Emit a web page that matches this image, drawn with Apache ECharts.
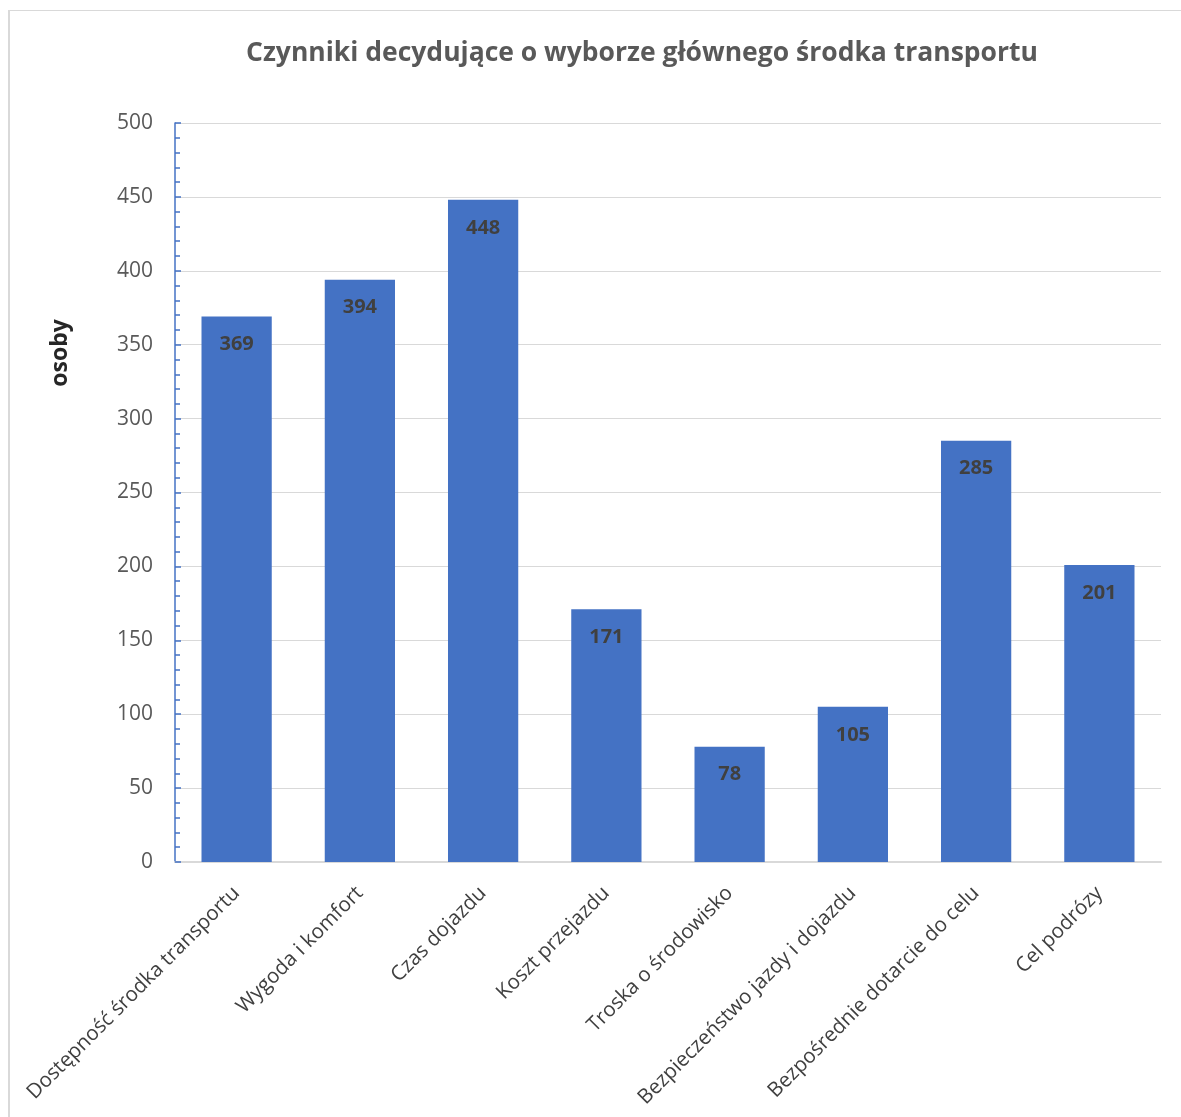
<!DOCTYPE html>
<html>
<head>
<meta charset="utf-8">
<script src="https://cdn.jsdelivr.net/npm/echarts@6/dist/echarts.min.js"></script>
<style>
html,body{margin:0;padding:0;background:#fff;}
#frame{position:absolute;left:8px;top:10px;width:1200px;height:1200px;border-left:2px solid #d9d9d9;border-top:1px solid #d9d9d9;box-sizing:border-box;}
#chart{position:absolute;left:0;top:0;width:1181px;height:1117px;}
</style>
</head>
<body>
<div id="frame"></div>
<div id="chart"></div>
<script>
const titleText = 'Czynniki decydujące o wyborze głównego środka transportu';
const yAxisName = 'osoby';
const categories = [
  'Dostępność środka transportu',
  'Wygoda i komfort',
  'Czas dojazdu',
  'Koszt przejazdu',
  'Troska o środowisko',
  'Bezpieczeństwo jazdy i dojazdu',
  'Bezpośrednie dotarcie do celu',
  'Cel podrózy'
];
const values = [369, 394, 448, 171, 78, 105, 285, 201];
const yMin = 0, yMax = 500, yInterval = 50;

const FONT = "'Open Sans', 'Noto Sans', sans-serif";
const chart = echarts.init(document.getElementById('chart'), null, {renderer: 'canvas'});
chart.setOption({
  backgroundColor: 'transparent',
  animation: false,
  title: {
    text: titleText,
    left: 637,
    top: 35,
    textAlign: 'center',
    textStyle: {fontFamily: FONT, fontSize: 26.5, fontWeight: 'bold', color: '#595959'}
  },
  graphic: [{
    type: 'text',
    x: 60, y: 353,
    rotation: Math.PI / 2,
    style: {text: yAxisName, fontFamily: FONT, fontSize: 23, fontWeight: 'bold', fill: '#262626', align: 'center', verticalAlign: 'middle'}
  }],
  grid: {left: 175, right: 20, top: 123, bottom: 255, containLabel: false},
  xAxis: {
    type: 'category',
    data: categories,
    axisLine: {show: true, lineStyle: {color: '#d9d9d9', width: 2}},
    axisTick: {show: false},
    axisLabel: {rotate: 45, interval: 0, margin: 28, fontFamily: FONT, fontSize: 20.5, color: '#404040'}
  },
  yAxis: {
    type: 'value',
    min: yMin, max: yMax, interval: yInterval,
    axisLine: {show: true, lineStyle: {color: '#4472C4', width: 1.5}},
    axisTick: {show: true, inside: true, length: 6, lineStyle: {color: '#4472C4', width: 1.5}},
    minorTick: {show: true, splitNumber: 5, length: 5, lineStyle: {color: '#4472C4', width: 1.5}},
    splitLine: {show: true, lineStyle: {color: '#d9d9d9', width: 1}},
    axisLabel: {margin: 22, fontFamily: FONT, fontSize: 21, color: '#595959'}
  },
  series: [{
    type: 'bar',
    data: values,
    barWidth: '57%',
    itemStyle: {color: '#4472C4'},
    label: {show: true, position: 'insideTop', distance: 18, fontFamily: FONT, fontSize: 20, fontWeight: 'bold', color: '#404040'}
  }]
});
</script>
</body>
</html>
